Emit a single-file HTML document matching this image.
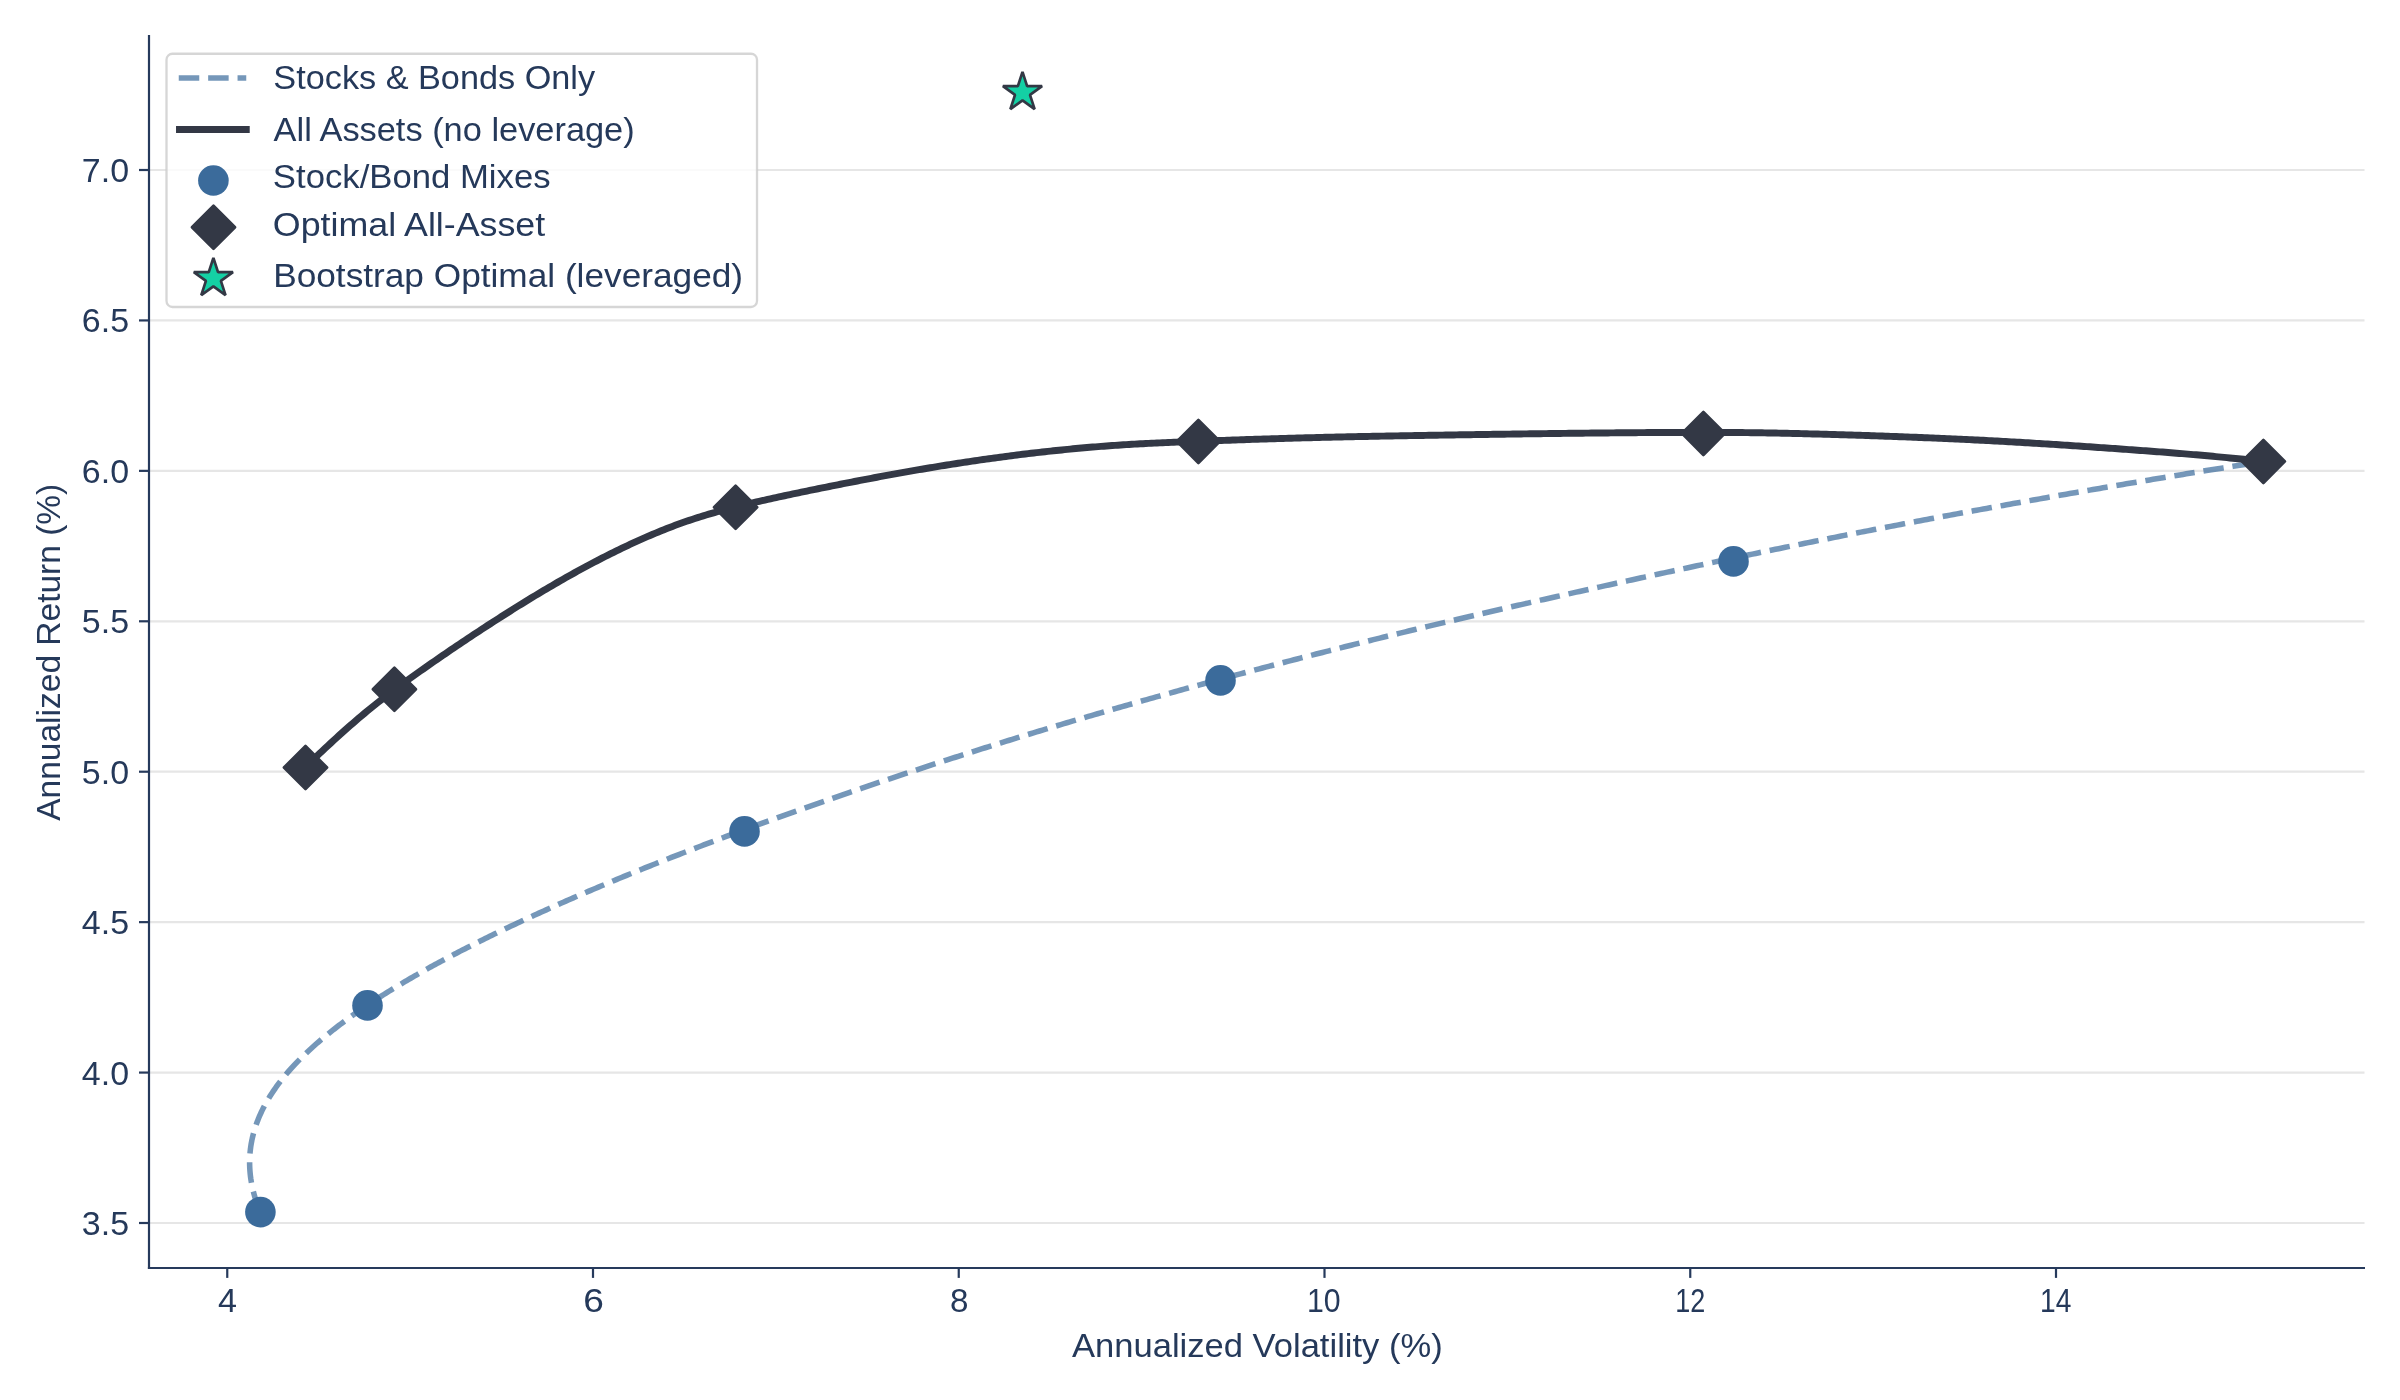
<!DOCTYPE html>
<html><head><meta charset="utf-8"><title>Efficient Frontier</title><style>
html,body{margin:0;padding:0;background:#fff;width:2400px;height:1400px;overflow:hidden}
svg{display:block;will-change:transform}
text{font-family:"Liberation Sans",sans-serif;fill:#25395a}
</style></head><body>
<svg width="2400" height="1400" viewBox="0 0 2400 1400">
<rect x="0" y="0" width="2400" height="1400" fill="#ffffff"/>
<line x1="150" y1="1223.00" x2="2364.5" y2="1223.00" stroke="#e6e6e6" stroke-width="2.2"/>
<line x1="150" y1="1072.57" x2="2364.5" y2="1072.57" stroke="#e6e6e6" stroke-width="2.2"/>
<line x1="150" y1="922.14" x2="2364.5" y2="922.14" stroke="#e6e6e6" stroke-width="2.2"/>
<line x1="150" y1="771.71" x2="2364.5" y2="771.71" stroke="#e6e6e6" stroke-width="2.2"/>
<line x1="150" y1="621.29" x2="2364.5" y2="621.29" stroke="#e6e6e6" stroke-width="2.2"/>
<line x1="150" y1="470.86" x2="2364.5" y2="470.86" stroke="#e6e6e6" stroke-width="2.2"/>
<line x1="150" y1="320.43" x2="2364.5" y2="320.43" stroke="#e6e6e6" stroke-width="2.2"/>
<line x1="150" y1="170.00" x2="2364.5" y2="170.00" stroke="#e6e6e6" stroke-width="2.2"/>
<path d="M259.80,1210.90 L259.25,1209.55 L258.72,1208.20 L258.21,1206.85 L257.71,1205.51 L257.22,1204.16 L256.75,1202.81 L256.29,1201.47 L255.85,1200.13 L255.42,1198.78 L255.01,1197.44 L254.61,1196.10 L254.22,1194.76 L253.86,1193.42 L253.50,1192.08 L253.16,1190.74 L252.84,1189.40 L252.53,1188.06 L252.24,1186.72 L251.96,1185.39 L251.70,1184.05 L251.45,1182.71 L251.22,1181.38 L251.01,1180.04 L250.80,1178.71 L250.62,1177.37 L250.45,1176.04 L250.30,1174.70 L250.16,1173.37 L250.04,1172.03 L249.93,1170.70 L249.84,1169.37 L249.77,1168.03 L249.71,1166.70 L249.66,1165.36 L249.64,1164.03 L249.63,1162.70 L249.63,1161.36 L249.65,1160.03 L249.69,1158.70 L249.74,1157.37 L249.81,1156.03 L249.90,1154.70 L250.00,1153.37 L250.12,1152.04 L250.25,1150.70 L250.40,1149.37 L250.57,1148.04 L250.75,1146.71 L250.95,1145.38 L251.17,1144.05 L251.40,1142.72 L251.65,1141.39 L251.91,1140.06 L252.20,1138.73 L252.49,1137.40 L252.81,1136.07 L253.14,1134.74 L253.48,1133.41 L253.85,1132.08 L254.23,1130.76 L254.62,1129.43 L255.03,1128.11 L255.46,1126.78 L255.91,1125.46 L256.37,1124.13 L256.85,1122.81 L257.34,1121.49 L257.85,1120.17 L258.38,1118.84 L258.92,1117.52 L259.48,1116.21 L260.06,1114.89 L260.65,1113.57 L261.26,1112.26 L261.88,1110.94 L262.52,1109.63 L263.18,1108.32 L263.85,1107.00 L264.54,1105.70 L265.24,1104.39 L265.96,1103.08 L266.70,1101.77 L267.45,1100.47 L268.22,1099.17 L269.00,1097.86 L269.80,1096.56 L270.61,1095.27 L271.44,1093.97 L272.29,1092.67 L273.15,1091.38 L274.03,1090.09 L274.92,1088.80 L275.83,1087.51 L276.75,1086.22 L277.69,1084.94 L278.64,1083.65 L279.61,1082.37 L280.59,1081.09 L281.59,1079.81 L282.61,1078.54 L283.63,1077.26 L284.68,1075.99 L285.73,1074.72 L286.80,1073.45 L287.89,1072.18 L288.99,1070.91 L290.10,1069.65 L291.23,1068.39 L292.38,1067.13 L293.53,1065.87 L294.70,1064.61 L295.89,1063.36 L297.09,1062.11 L298.30,1060.86 L299.53,1059.61 L300.77,1058.36 L302.02,1057.12 L303.28,1055.87 L304.56,1054.63 L305.86,1053.39 L307.16,1052.15 L308.48,1050.91 L309.82,1049.68 L311.16,1048.45 L312.52,1047.22 L313.89,1045.99 L315.27,1044.76 L316.67,1043.53 L318.08,1042.31 L319.50,1041.08 L320.93,1039.86 L322.38,1038.64 L323.83,1037.42 L325.30,1036.21 L326.79,1034.99 L328.28,1033.78 L329.79,1032.56 L331.30,1031.35 L332.83,1030.14 L334.37,1028.94 L335.93,1027.73 L337.49,1026.53 L339.07,1025.32 L340.65,1024.12 L342.25,1022.92 L343.86,1021.72 L345.48,1020.52 L347.11,1019.33 L348.76,1018.13 L350.41,1016.94 L352.08,1015.75 L353.75,1014.55 L355.44,1013.37 L357.14,1012.18 L358.84,1010.99 L360.56,1009.81 L362.29,1008.62 L364.03,1007.44 L365.78,1006.26 L367.54,1005.08 L369.31,1003.90 L371.09,1002.72 L372.88,1001.54 L374.69,1000.37 L376.50,999.19 L378.32,998.02 L380.15,996.85 L381.99,995.68 L383.84,994.51 L385.70,993.34 L387.57,992.18 L389.45,991.01 L391.34,989.85 L393.24,988.68 L395.14,987.52 L397.06,986.36 L398.99,985.20 L400.92,984.04 L402.87,982.89 L404.82,981.73 L406.78,980.57 L408.75,979.42 L410.73,978.27 L412.72,977.11 L414.72,975.96 L416.73,974.81 L418.74,973.67 L420.77,972.52 L422.80,971.37 L424.84,970.23 L426.89,969.08 L428.95,967.94 L431.01,966.80 L433.09,965.65 L435.17,964.51 L437.26,963.38 L439.36,962.24 L441.47,961.10 L443.58,959.96 L445.71,958.83 L447.84,957.70 L449.98,956.56 L452.12,955.43 L454.28,954.30 L456.44,953.17 L458.61,952.04 L460.78,950.91 L462.97,949.79 L465.16,948.66 L467.36,947.54 L469.57,946.41 L471.78,945.29 L474.00,944.17 L476.23,943.05 L478.47,941.93 L480.71,940.81 L482.96,939.69 L485.22,938.57 L487.48,937.46 L489.75,936.34 L492.03,935.23 L494.32,934.11 L496.61,933.00 L498.91,931.89 L501.21,930.78 L503.52,929.67 L505.84,928.56 L508.17,927.45 L510.50,926.35 L512.84,925.24 L515.18,924.14 L517.53,923.03 L519.89,921.93 L522.25,920.83 L524.62,919.73 L527.00,918.63 L529.38,917.53 L531.77,916.43 L534.16,915.33 L536.56,914.23 L538.97,913.14 L541.38,912.04 L543.80,910.95 L546.22,909.86 L548.65,908.77 L551.09,907.67 L553.53,906.58 L555.97,905.50 L558.43,904.41 L560.89,903.32 L563.35,902.23 L565.82,901.15 L568.29,900.06 L570.77,898.98 L573.26,897.90 L575.75,896.82 L578.25,895.73 L580.75,894.65 L583.26,893.57 L585.77,892.50 L588.29,891.42 L590.81,890.34 L593.34,889.27 L595.87,888.19 L598.41,887.12 L600.96,886.05 L603.50,884.97 L606.06,883.90 L608.62,882.83 L611.18,881.76 L613.75,880.69 L616.32,879.63 L618.90,878.56 L621.48,877.49 L624.07,876.43 L626.66,875.37 L629.26,874.30 L631.86,873.24 L634.47,872.18 L637.08,871.12 L639.69,870.06 L642.31,869.00 L644.94,867.95 L647.57,866.89 L650.20,865.84 L652.84,864.78 L655.48,863.73 L658.13,862.68 L660.78,861.63 L663.43,860.58 L666.09,859.53 L668.76,858.48 L671.43,857.43 L674.10,856.39 L676.78,855.34 L679.46,854.30 L682.14,853.26 L684.83,852.22 L687.52,851.18 L690.22,850.14 L692.92,849.10 L695.63,848.06 L698.34,847.03 L701.05,845.99 L703.77,844.96 L706.49,843.92 L709.22,842.89 L711.94,841.86 L714.68,840.83 L717.41,839.80 L720.15,838.77 L722.90,837.75 L725.64,836.72 L728.40,835.69 L731.15,834.67 L733.91,833.65 L736.67,832.62 L739.44,831.60 L742.21,830.58 L744.98,829.56 L747.75,828.54 L750.53,827.52 L753.32,826.51 L756.10,825.49 L758.89,824.47 L761.68,823.46 L764.48,822.44 L767.28,821.43 L770.08,820.42 L772.89,819.41 L775.70,818.40 L778.51,817.39 L781.33,816.38 L784.14,815.37 L786.97,814.36 L789.79,813.35 L792.62,812.35 L795.45,811.34 L798.28,810.33 L801.12,809.33 L803.96,808.33 L806.80,807.32 L809.65,806.32 L812.50,805.32 L815.35,804.32 L818.20,803.32 L821.06,802.32 L823.92,801.32 L826.79,800.32 L829.65,799.33 L832.52,798.33 L835.39,797.33 L838.27,796.34 L841.14,795.34 L844.02,794.35 L846.91,793.36 L849.79,792.36 L852.68,791.37 L855.57,790.38 L858.46,789.39 L861.36,788.40 L864.26,787.42 L867.16,786.43 L870.06,785.44 L872.97,784.46 L875.88,783.47 L878.79,782.49 L881.70,781.51 L884.62,780.52 L887.54,779.54 L890.46,778.56 L893.39,777.58 L896.31,776.61 L899.24,775.63 L902.17,774.65 L905.11,773.68 L908.05,772.70 L910.98,771.73 L913.93,770.76 L916.87,769.79 L919.82,768.82 L922.77,767.85 L925.72,766.88 L928.67,765.91 L931.63,764.95 L934.59,763.98 L937.55,763.02 L940.51,762.06 L943.47,761.10 L946.44,760.14 L949.41,759.18 L952.38,758.22 L955.36,757.26 L958.34,756.31 L961.31,755.35 L964.30,754.40 L967.28,753.45 L970.27,752.50 L973.25,751.55 L976.24,750.60 L979.24,749.65 L982.23,748.71 L985.23,747.76 L988.23,746.82 L991.23,745.88 L994.23,744.94 L997.24,744.00 L1000.24,743.06 L1003.25,742.12 L1006.27,741.19 L1009.28,740.26 L1012.30,739.32 L1015.31,738.39 L1018.33,737.46 L1021.36,736.53 L1024.38,735.61 L1027.41,734.68 L1030.43,733.76 L1033.47,732.84 L1036.50,731.91 L1039.53,730.99 L1042.57,730.07 L1045.61,729.16 L1048.65,728.24 L1051.69,727.33 L1054.73,726.41 L1057.78,725.50 L1060.82,724.59 L1063.87,723.68 L1066.93,722.77 L1069.98,721.86 L1073.03,720.95 L1076.09,720.05 L1079.15,719.15 L1082.21,718.24 L1085.27,717.34 L1088.33,716.44 L1091.40,715.54 L1094.47,714.64 L1097.54,713.75 L1100.61,712.85 L1103.68,711.96 L1106.75,711.06 L1109.83,710.17 L1112.91,709.28 L1115.99,708.39 L1119.07,707.50 L1122.15,706.62 L1125.23,705.73 L1128.32,704.85 L1131.41,703.96 L1134.50,703.08 L1137.59,702.20 L1140.68,701.32 L1143.77,700.44 L1146.87,699.56 L1149.97,698.69 L1153.07,697.81 L1156.17,696.94 L1159.27,696.07 L1162.37,695.20 L1165.48,694.33 L1168.58,693.46 L1171.69,692.59 L1174.80,691.73 L1177.91,690.86 L1181.02,690.00 L1184.14,689.14 L1187.25,688.28 L1190.37,687.42 L1193.49,686.56 L1196.61,685.70 L1199.73,684.85 L1202.85,683.99 L1205.98,683.14 L1209.10,682.29 L1212.23,681.44 L1215.36,680.59 L1218.49,679.74 L1221.62,678.90 L1224.75,678.05 L1227.89,677.21 L1231.02,676.37 L1234.16,675.52 L1237.30,674.68 L1240.44,673.84 L1243.58,673.01 L1246.72,672.17 L1249.86,671.33 L1253.01,670.50 L1256.16,669.67 L1259.30,668.83 L1262.45,668.00 L1265.60,667.17 L1268.75,666.35 L1271.91,665.52 L1275.06,664.69 L1278.21,663.87 L1281.37,663.04 L1284.53,662.22 L1287.69,661.40 L1290.85,660.58 L1294.01,659.76 L1297.17,658.94 L1300.33,658.12 L1303.50,657.31 L1306.66,656.49 L1309.83,655.68 L1313.00,654.87 L1316.17,654.06 L1319.34,653.25 L1322.51,652.44 L1325.68,651.63 L1328.86,650.82 L1332.03,650.02 L1335.21,649.22 L1338.39,648.41 L1341.57,647.61 L1344.75,646.81 L1347.93,646.01 L1351.11,645.21 L1354.29,644.42 L1357.48,643.62 L1360.66,642.83 L1363.85,642.03 L1367.04,641.24 L1370.22,640.45 L1373.41,639.66 L1376.60,638.87 L1379.80,638.09 L1382.99,637.30 L1386.18,636.51 L1389.38,635.73 L1392.57,634.95 L1395.77,634.17 L1398.97,633.39 L1402.17,632.61 L1405.37,631.83 L1408.57,631.05 L1411.77,630.28 L1414.97,629.51 L1418.18,628.73 L1421.38,627.96 L1424.59,627.19 L1427.80,626.42 L1431.00,625.65 L1434.21,624.89 L1437.42,624.12 L1440.63,623.35 L1443.85,622.59 L1447.06,621.83 L1450.27,621.07 L1453.49,620.31 L1456.70,619.55 L1459.92,618.79 L1463.14,618.03 L1466.35,617.28 L1469.57,616.52 L1472.79,615.77 L1476.01,615.01 L1479.24,614.26 L1482.46,613.51 L1485.68,612.76 L1488.91,612.01 L1492.13,611.26 L1495.36,610.52 L1498.58,609.77 L1501.81,609.03 L1505.04,608.28 L1508.27,607.54 L1511.50,606.80 L1514.73,606.06 L1517.96,605.32 L1521.19,604.58 L1524.43,603.84 L1527.66,603.10 L1530.90,602.37 L1534.13,601.63 L1537.37,600.89 L1540.61,600.16 L1543.84,599.43 L1547.08,598.70 L1550.32,597.96 L1553.56,597.23 L1556.80,596.50 L1560.04,595.78 L1563.29,595.05 L1566.53,594.32 L1569.77,593.59 L1573.02,592.87 L1576.26,592.14 L1579.51,591.42 L1582.75,590.70 L1586.00,589.97 L1589.25,589.25 L1592.50,588.53 L1595.75,587.81 L1599.00,587.09 L1602.25,586.37 L1605.50,585.66 L1608.75,584.94 L1612.00,584.22 L1615.26,583.51 L1618.51,582.79 L1621.77,582.08 L1625.02,581.36 L1628.28,580.65 L1631.53,579.94 L1634.79,579.23 L1638.05,578.52 L1641.31,577.80 L1644.56,577.09 L1647.82,576.39 L1651.08,575.68 L1654.34,574.97 L1657.61,574.26 L1660.87,573.56 L1664.13,572.85 L1667.39,572.15 L1670.66,571.44 L1673.92,570.74 L1677.19,570.04 L1680.45,569.33 L1683.72,568.63 L1686.98,567.93 L1690.25,567.23 L1693.52,566.53 L1696.79,565.84 L1700.06,565.14 L1703.33,564.44 L1706.60,563.75 L1709.87,563.05 L1713.14,562.36 L1716.41,561.66 L1719.68,560.97 L1722.96,560.28 L1726.23,559.59 L1729.50,558.90 L1732.78,558.21 L1736.05,557.52 L1739.33,556.84 L1742.61,556.15 L1745.88,555.47 L1749.16,554.78 L1752.44,554.10 L1755.72,553.42 L1759.00,552.74 L1762.28,552.06 L1765.56,551.38 L1768.84,550.70 L1772.12,550.02 L1775.41,549.34 L1778.69,548.67 L1781.97,548.00 L1785.26,547.32 L1788.54,546.65 L1791.83,545.98 L1795.11,545.31 L1798.40,544.64 L1801.69,543.97 L1804.98,543.31 L1808.26,542.64 L1811.55,541.98 L1814.84,541.31 L1818.13,540.65 L1821.42,539.99 L1824.71,539.33 L1828.01,538.67 L1831.30,538.01 L1834.59,537.36 L1837.88,536.70 L1841.18,536.05 L1844.47,535.40 L1847.77,534.74 L1851.06,534.09 L1854.36,533.45 L1857.66,532.80 L1860.96,532.15 L1864.25,531.51 L1867.55,530.86 L1870.85,530.22 L1874.15,529.58 L1877.45,528.93 L1880.75,528.30 L1884.05,527.66 L1887.35,527.02 L1890.66,526.38 L1893.96,525.75 L1897.26,525.11 L1900.57,524.48 L1903.87,523.85 L1907.18,523.22 L1910.48,522.59 L1913.79,521.96 L1917.09,521.33 L1920.40,520.71 L1923.71,520.08 L1927.01,519.46 L1930.32,518.84 L1933.63,518.21 L1936.94,517.59 L1940.25,516.97 L1943.56,516.35 L1946.87,515.74 L1950.18,515.12 L1953.49,514.50 L1956.81,513.89 L1960.12,513.28 L1963.43,512.66 L1966.75,512.05 L1970.06,511.44 L1973.37,510.83 L1976.69,510.23 L1980.00,509.62 L1983.32,509.01 L1986.64,508.41 L1989.95,507.80 L1993.27,507.20 L1996.59,506.60 L1999.90,506.00 L2003.22,505.40 L2006.54,504.80 L2009.86,504.20 L2013.18,503.60 L2016.50,503.00 L2019.82,502.41 L2023.14,501.81 L2026.46,501.22 L2029.78,500.63 L2033.11,500.04 L2036.43,499.45 L2039.75,498.86 L2043.07,498.27 L2046.40,497.68 L2049.72,497.09 L2053.05,496.51 L2056.37,495.92 L2059.70,495.34 L2063.02,494.75 L2066.35,494.17 L2069.67,493.59 L2073.00,493.01 L2076.33,492.43 L2079.66,491.85 L2082.98,491.27 L2086.31,490.70 L2089.64,490.12 L2092.97,489.55 L2096.30,488.97 L2099.63,488.40 L2102.96,487.83 L2106.29,487.26 L2109.62,486.69 L2112.95,486.12 L2116.28,485.55 L2119.62,484.98 L2122.95,484.42 L2126.28,483.85 L2129.61,483.29 L2132.95,482.72 L2136.28,482.16 L2139.62,481.60 L2142.95,481.04 L2146.29,480.48 L2149.62,479.92 L2152.96,479.36 L2156.29,478.81 L2159.63,478.25 L2162.97,477.70 L2166.30,477.14 L2169.64,476.59 L2172.98,476.04 L2176.32,475.49 L2179.66,474.94 L2182.99,474.39 L2186.33,473.84 L2189.67,473.30 L2193.01,472.75 L2196.35,472.21 L2199.69,471.66 L2203.04,471.12 L2206.38,470.58 L2209.72,470.04 L2213.06,469.50 L2216.40,468.96 L2219.75,468.42 L2223.09,467.89 L2226.43,467.35 L2229.78,466.82 L2233.12,466.28 L2236.46,465.75 L2239.81,465.22 L2243.15,464.69 L2246.50,464.16 L2249.85,463.63 L2253.19,463.11 L2256.54,462.58 L2259.89,462.06 L2263.23,461.53" fill="none" stroke="#3b6b9b" stroke-opacity="0.7" stroke-width="5.55" stroke-dasharray="20.5 8.9" stroke-linecap="butt"/>
<path d="M305.50,766.77 L308.30,764.12 L311.10,761.47 L313.90,758.83 L316.70,756.19 L319.51,753.56 L322.31,750.93 L325.11,748.32 L327.91,745.71 L330.71,743.12 L333.51,740.54 L336.31,737.98 L339.11,735.44 L341.91,732.91 L344.71,730.40 L347.52,727.92 L350.32,725.45 L353.12,723.01 L355.92,720.59 L358.72,718.19 L361.52,715.82 L364.32,713.47 L367.12,711.15 L369.92,708.86 L372.72,706.59 L375.53,704.34 L378.33,702.12 L381.13,699.92 L383.93,697.75 L386.73,695.59 L389.53,693.46 L392.33,691.35 L395.13,689.25 L397.93,687.17 L400.73,685.11 L403.54,683.06 L406.34,681.03 L409.14,679.01 L411.94,677.00 L414.74,675.00 L417.54,673.01 L420.34,671.03 L423.14,669.06 L425.94,667.10 L428.74,665.14 L431.55,663.19 L434.35,661.25 L437.15,659.32 L439.95,657.39 L442.75,655.47 L445.55,653.55 L448.35,651.64 L451.15,649.73 L453.95,647.84 L456.75,645.94 L459.56,644.06 L462.36,642.18 L465.16,640.30 L467.96,638.44 L470.76,636.57 L473.56,634.72 L476.36,632.87 L479.16,631.03 L481.96,629.19 L484.76,627.36 L487.57,625.54 L490.37,623.72 L493.17,621.91 L495.97,620.11 L498.77,618.31 L501.57,616.52 L504.37,614.73 L507.17,612.96 L509.97,611.19 L512.77,609.43 L515.58,607.67 L518.38,605.92 L521.18,604.19 L523.98,602.45 L526.78,600.73 L529.58,599.02 L532.38,597.31 L535.18,595.62 L537.98,593.93 L540.78,592.25 L543.59,590.58 L546.39,588.92 L549.19,587.27 L551.99,585.63 L554.79,584.00 L557.59,582.38 L560.39,580.77 L563.19,579.17 L565.99,577.58 L568.79,576.00 L571.60,574.43 L574.40,572.87 L577.20,571.33 L580.00,569.79 L582.80,568.27 L585.60,566.75 L588.40,565.25 L591.20,563.76 L594.00,562.28 L596.80,560.82 L599.61,559.36 L602.41,557.92 L605.21,556.49 L608.01,555.08 L610.81,553.67 L613.61,552.28 L616.41,550.91 L619.21,549.54 L622.01,548.19 L624.81,546.85 L627.62,545.53 L630.42,544.22 L633.22,542.93 L636.02,541.64 L638.82,540.38 L641.62,539.13 L644.42,537.89 L647.22,536.67 L650.02,535.47 L652.82,534.28 L655.63,533.11 L658.43,531.95 L661.23,530.81 L664.03,529.69 L666.83,528.58 L669.63,527.50 L672.43,526.43 L675.23,525.37 L678.03,524.34 L680.83,523.32 L683.64,522.32 L686.44,521.34 L689.24,520.38 L692.04,519.44 L694.84,518.51 L697.64,517.60 L700.44,516.72 L703.24,515.85 L706.04,515.00 L708.84,514.17 L711.65,513.35 L714.45,512.56 L717.25,511.77 L720.05,511.01 L722.85,510.26 L725.65,509.51 L728.45,508.79 L731.25,508.07 L734.05,507.36 L736.85,506.66 L739.66,505.97 L742.46,505.28 L745.26,504.61 L748.06,503.94 L750.86,503.28 L753.66,502.62 L756.46,501.97 L759.26,501.33 L762.06,500.69 L764.86,500.05 L767.67,499.43 L770.47,498.80 L773.27,498.18 L776.07,497.57 L778.87,496.96 L781.67,496.35 L784.47,495.75 L787.27,495.15 L790.07,494.55 L792.87,493.96 L795.68,493.37 L798.48,492.78 L801.28,492.19 L804.08,491.61 L806.88,491.03 L809.68,490.45 L812.48,489.88 L815.28,489.31 L818.08,488.74 L820.88,488.17 L823.69,487.60 L826.49,487.04 L829.29,486.48 L832.09,485.92 L834.89,485.36 L837.69,484.80 L840.49,484.25 L843.29,483.70 L846.09,483.15 L848.89,482.60 L851.70,482.05 L854.50,481.51 L857.30,480.97 L860.10,480.43 L862.90,479.89 L865.70,479.35 L868.50,478.82 L871.30,478.29 L874.10,477.76 L876.90,477.24 L879.71,476.71 L882.51,476.19 L885.31,475.68 L888.11,475.16 L890.91,474.65 L893.71,474.14 L896.51,473.63 L899.31,473.13 L902.11,472.63 L904.91,472.13 L907.72,471.64 L910.52,471.14 L913.32,470.66 L916.12,470.17 L918.92,469.69 L921.72,469.21 L924.52,468.73 L927.32,468.26 L930.12,467.79 L932.92,467.32 L935.73,466.86 L938.53,466.40 L941.33,465.94 L944.13,465.49 L946.93,465.04 L949.73,464.60 L952.53,464.15 L955.33,463.71 L958.13,463.28 L960.93,462.85 L963.74,462.42 L966.54,461.99 L969.34,461.57 L972.14,461.16 L974.94,460.74 L977.74,460.33 L980.54,459.93 L983.34,459.52 L986.14,459.13 L988.94,458.73 L991.75,458.34 L994.55,457.96 L997.35,457.57 L1000.15,457.20 L1002.95,456.82 L1005.75,456.45 L1008.55,456.08 L1011.35,455.72 L1014.15,455.36 L1016.95,455.01 L1019.76,454.66 L1022.56,454.31 L1025.36,453.97 L1028.16,453.63 L1030.96,453.30 L1033.76,452.97 L1036.56,452.65 L1039.36,452.33 L1042.16,452.01 L1044.96,451.70 L1047.77,451.39 L1050.57,451.09 L1053.37,450.79 L1056.17,450.50 L1058.97,450.21 L1061.77,449.92 L1064.57,449.64 L1067.37,449.36 L1070.17,449.09 L1072.97,448.82 L1075.78,448.56 L1078.58,448.30 L1081.38,448.05 L1084.18,447.80 L1086.98,447.55 L1089.78,447.32 L1092.58,447.08 L1095.38,446.85 L1098.18,446.62 L1100.98,446.40 L1103.79,446.19 L1106.59,445.97 L1109.39,445.77 L1112.19,445.57 L1114.99,445.37 L1117.79,445.18 L1120.59,444.99 L1123.39,444.81 L1126.19,444.63 L1128.99,444.46 L1131.80,444.29 L1134.60,444.13 L1137.40,443.97 L1140.20,443.81 L1143.00,443.66 L1145.80,443.52 L1148.60,443.38 L1151.40,443.24 L1154.20,443.11 L1157.00,442.97 L1159.81,442.85 L1162.61,442.72 L1165.41,442.60 L1168.21,442.48 L1171.01,442.36 L1173.81,442.25 L1176.61,442.13 L1179.41,442.02 L1182.21,441.91 L1185.01,441.80 L1187.82,441.70 L1190.62,441.59 L1193.42,441.49 L1196.22,441.38 L1199.02,441.28 L1201.82,441.17 L1204.62,441.07 L1207.42,440.97 L1210.22,440.86 L1213.02,440.76 L1215.83,440.66 L1218.63,440.56 L1221.43,440.46 L1224.23,440.36 L1227.03,440.26 L1229.83,440.16 L1232.63,440.06 L1235.43,439.96 L1238.23,439.87 L1241.03,439.77 L1243.84,439.67 L1246.64,439.58 L1249.44,439.49 L1252.24,439.39 L1255.04,439.30 L1257.84,439.21 L1260.64,439.12 L1263.44,439.03 L1266.24,438.94 L1269.04,438.85 L1271.85,438.77 L1274.65,438.68 L1277.45,438.60 L1280.25,438.51 L1283.05,438.43 L1285.85,438.35 L1288.65,438.27 L1291.45,438.19 L1294.25,438.11 L1297.05,438.04 L1299.86,437.96 L1302.66,437.89 L1305.46,437.81 L1308.26,437.74 L1311.06,437.67 L1313.86,437.60 L1316.66,437.53 L1319.46,437.46 L1322.26,437.39 L1325.06,437.33 L1327.87,437.26 L1330.67,437.19 L1333.47,437.13 L1336.27,437.07 L1339.07,437.00 L1341.87,436.94 L1344.67,436.88 L1347.47,436.82 L1350.27,436.76 L1353.07,436.70 L1355.88,436.64 L1358.68,436.59 L1361.48,436.53 L1364.28,436.47 L1367.08,436.42 L1369.88,436.36 L1372.68,436.31 L1375.48,436.25 L1378.28,436.20 L1381.08,436.15 L1383.89,436.10 L1386.69,436.05 L1389.49,436.00 L1392.29,435.94 L1395.09,435.89 L1397.89,435.85 L1400.69,435.80 L1403.49,435.75 L1406.29,435.70 L1409.09,435.65 L1411.90,435.60 L1414.70,435.56 L1417.50,435.51 L1420.30,435.46 L1423.10,435.42 L1425.90,435.37 L1428.70,435.33 L1431.50,435.28 L1434.30,435.24 L1437.10,435.19 L1439.91,435.15 L1442.71,435.10 L1445.51,435.06 L1448.31,435.02 L1451.11,434.97 L1453.91,434.93 L1456.71,434.89 L1459.51,434.84 L1462.31,434.80 L1465.11,434.76 L1467.92,434.71 L1470.72,434.67 L1473.52,434.63 L1476.32,434.59 L1479.12,434.54 L1481.92,434.50 L1484.72,434.46 L1487.52,434.42 L1490.32,434.38 L1493.12,434.34 L1495.93,434.30 L1498.73,434.26 L1501.53,434.22 L1504.33,434.18 L1507.13,434.14 L1509.93,434.10 L1512.73,434.06 L1515.53,434.02 L1518.33,433.98 L1521.13,433.94 L1523.94,433.90 L1526.74,433.86 L1529.54,433.83 L1532.34,433.79 L1535.14,433.75 L1537.94,433.72 L1540.74,433.68 L1543.54,433.64 L1546.34,433.61 L1549.14,433.57 L1551.95,433.54 L1554.75,433.50 L1557.55,433.47 L1560.35,433.43 L1563.15,433.40 L1565.95,433.37 L1568.75,433.33 L1571.55,433.30 L1574.35,433.27 L1577.15,433.24 L1579.96,433.21 L1582.76,433.18 L1585.56,433.14 L1588.36,433.11 L1591.16,433.08 L1593.96,433.05 L1596.76,433.03 L1599.56,433.00 L1602.36,432.97 L1605.16,432.94 L1607.97,432.91 L1610.77,432.89 L1613.57,432.86 L1616.37,432.84 L1619.17,432.81 L1621.97,432.79 L1624.77,432.76 L1627.57,432.74 L1630.37,432.72 L1633.17,432.69 L1635.98,432.67 L1638.78,432.65 L1641.58,432.63 L1644.38,432.61 L1647.18,432.59 L1649.98,432.58 L1652.78,432.56 L1655.58,432.54 L1658.38,432.53 L1661.18,432.51 L1663.99,432.50 L1666.79,432.49 L1669.59,432.48 L1672.39,432.47 L1675.19,432.46 L1677.99,432.45 L1680.79,432.44 L1683.59,432.43 L1686.39,432.43 L1689.19,432.42 L1692.00,432.42 L1694.80,432.42 L1697.60,432.42 L1700.40,432.41 L1703.20,432.41 L1706.00,432.41 L1708.80,432.41 L1711.60,432.41 L1714.40,432.41 L1717.20,432.42 L1720.01,432.42 L1722.81,432.43 L1725.61,432.44 L1728.41,432.46 L1731.21,432.48 L1734.01,432.50 L1736.81,432.52 L1739.61,432.55 L1742.41,432.57 L1745.21,432.61 L1748.02,432.64 L1750.82,432.68 L1753.62,432.71 L1756.42,432.75 L1759.22,432.80 L1762.02,432.84 L1764.82,432.89 L1767.62,432.94 L1770.42,432.99 L1773.22,433.04 L1776.03,433.09 L1778.83,433.15 L1781.63,433.20 L1784.43,433.26 L1787.23,433.32 L1790.03,433.38 L1792.83,433.44 L1795.63,433.51 L1798.43,433.57 L1801.23,433.64 L1804.04,433.71 L1806.84,433.77 L1809.64,433.85 L1812.44,433.92 L1815.24,433.99 L1818.04,434.06 L1820.84,434.14 L1823.64,434.22 L1826.44,434.29 L1829.24,434.37 L1832.05,434.45 L1834.85,434.53 L1837.65,434.61 L1840.45,434.70 L1843.25,434.78 L1846.05,434.87 L1848.85,434.95 L1851.65,435.04 L1854.45,435.13 L1857.25,435.22 L1860.06,435.31 L1862.86,435.40 L1865.66,435.50 L1868.46,435.59 L1871.26,435.68 L1874.06,435.78 L1876.86,435.87 L1879.66,435.97 L1882.46,436.07 L1885.26,436.17 L1888.07,436.27 L1890.87,436.37 L1893.67,436.47 L1896.47,436.57 L1899.27,436.68 L1902.07,436.78 L1904.87,436.89 L1907.67,437.00 L1910.47,437.10 L1913.27,437.21 L1916.08,437.32 L1918.88,437.43 L1921.68,437.55 L1924.48,437.66 L1927.28,437.77 L1930.08,437.89 L1932.88,438.01 L1935.68,438.12 L1938.48,438.24 L1941.28,438.36 L1944.09,438.49 L1946.89,438.61 L1949.69,438.73 L1952.49,438.86 L1955.29,438.99 L1958.09,439.12 L1960.89,439.25 L1963.69,439.38 L1966.49,439.51 L1969.29,439.65 L1972.10,439.78 L1974.90,439.92 L1977.70,440.06 L1980.50,440.20 L1983.30,440.34 L1986.10,440.48 L1988.90,440.63 L1991.70,440.78 L1994.50,440.93 L1997.30,441.08 L2000.11,441.23 L2002.91,441.38 L2005.71,441.54 L2008.51,441.69 L2011.31,441.85 L2014.11,442.01 L2016.91,442.17 L2019.71,442.34 L2022.51,442.50 L2025.31,442.67 L2028.12,442.83 L2030.92,443.00 L2033.72,443.17 L2036.52,443.35 L2039.32,443.52 L2042.12,443.69 L2044.92,443.87 L2047.72,444.05 L2050.52,444.22 L2053.32,444.40 L2056.13,444.58 L2058.93,444.76 L2061.73,444.95 L2064.53,445.13 L2067.33,445.32 L2070.13,445.50 L2072.93,445.69 L2075.73,445.88 L2078.53,446.07 L2081.33,446.26 L2084.14,446.45 L2086.94,446.64 L2089.74,446.83 L2092.54,447.02 L2095.34,447.22 L2098.14,447.41 L2100.94,447.61 L2103.74,447.80 L2106.54,448.00 L2109.34,448.20 L2112.15,448.39 L2114.95,448.59 L2117.75,448.79 L2120.55,448.99 L2123.35,449.19 L2126.15,449.39 L2128.95,449.60 L2131.75,449.80 L2134.55,450.00 L2137.35,450.20 L2140.16,450.41 L2142.96,450.62 L2145.76,450.82 L2148.56,451.03 L2151.36,451.24 L2154.16,451.45 L2156.96,451.66 L2159.76,451.88 L2162.56,452.09 L2165.36,452.31 L2168.17,452.53 L2170.97,452.75 L2173.77,452.97 L2176.57,453.20 L2179.37,453.42 L2182.17,453.65 L2184.97,453.88 L2187.77,454.12 L2190.57,454.35 L2193.37,454.59 L2196.18,454.83 L2198.98,455.07 L2201.78,455.32 L2204.58,455.57 L2207.38,455.82 L2210.18,456.07 L2212.98,456.33 L2215.78,456.59 L2218.58,456.85 L2221.38,457.12 L2224.19,457.38 L2226.99,457.65 L2229.79,457.93 L2232.59,458.20 L2235.39,458.48 L2238.19,458.76 L2240.99,459.04 L2243.79,459.32 L2246.59,459.60 L2249.39,459.89 L2252.20,460.17 L2255.00,460.46 L2257.80,460.75 L2260.60,461.03 L2263.40,461.32" fill="none" stroke="#333845" stroke-width="6.95" stroke-linecap="square" stroke-linejoin="round"/>
<circle cx="260.4" cy="1212.1" r="15.3" fill="#3b6b9b"/>
<circle cx="367.5" cy="1005.4" r="15.3" fill="#3b6b9b"/>
<circle cx="744.5" cy="831.4" r="15.3" fill="#3b6b9b"/>
<circle cx="1220.5" cy="680.4" r="15.3" fill="#3b6b9b"/>
<circle cx="1733.5" cy="561.4" r="15.3" fill="#3b6b9b"/>
<circle cx="2263.4" cy="461.4" r="15.3" fill="#3b6b9b"/>
<path d="M305.50,745.95 L327.05,767.50 L305.50,789.05 L283.95,767.50 Z" fill="#333845" stroke="#333845" stroke-width="2.7" stroke-linejoin="round"/>
<path d="M394.40,667.75 L415.95,689.30 L394.40,710.85 L372.85,689.30 Z" fill="#333845" stroke="#333845" stroke-width="2.7" stroke-linejoin="round"/>
<path d="M735.60,485.75 L757.15,507.30 L735.60,528.85 L714.05,507.30 Z" fill="#333845" stroke="#333845" stroke-width="2.7" stroke-linejoin="round"/>
<path d="M1198.40,419.85 L1219.95,441.40 L1198.40,462.95 L1176.85,441.40 Z" fill="#333845" stroke="#333845" stroke-width="2.7" stroke-linejoin="round"/>
<path d="M1703.40,411.85 L1724.95,433.40 L1703.40,454.95 L1681.85,433.40 Z" fill="#333845" stroke="#333845" stroke-width="2.7" stroke-linejoin="round"/>
<path d="M2263.40,439.85 L2284.95,461.40 L2263.40,482.95 L2241.85,461.40 Z" fill="#333845" stroke="#333845" stroke-width="2.7" stroke-linejoin="round"/>
<path d="M1022.50,71.90 L1017.88,86.13 L1002.91,86.13 L1015.02,94.93 L1010.39,109.17 L1022.50,100.37 L1034.61,109.17 L1029.98,94.93 L1042.09,86.13 L1027.12,86.13 Z" fill="#14d0a4" stroke="#333845" stroke-width="2.7" stroke-linejoin="bevel"/>
<line x1="149" y1="34.9" x2="149" y2="1269.1" stroke="#263a5c" stroke-width="2.2"/>
<line x1="147.9" y1="1268" x2="2365" y2="1268" stroke="#263a5c" stroke-width="2.2"/>
<line x1="227.25" y1="1268" x2="227.25" y2="1277.9" stroke="#263a5c" stroke-width="2.2"/>
<text transform="translate(218.00,1312.00) scale(1.0333,1)" font-size="33">4</text>
<line x1="593.00" y1="1268" x2="593.00" y2="1277.9" stroke="#263a5c" stroke-width="2.2"/>
<text transform="translate(583.27,1312.00) scale(1.1250,1)" font-size="33">6</text>
<line x1="958.75" y1="1268" x2="958.75" y2="1277.9" stroke="#263a5c" stroke-width="2.2"/>
<text transform="translate(950.04,1312.00) scale(1.0062,1)" font-size="33">8</text>
<line x1="1324.50" y1="1268" x2="1324.50" y2="1277.9" stroke="#263a5c" stroke-width="2.2"/>
<text transform="translate(1306.96,1312.00) scale(0.9176,1)" font-size="33">10</text>
<line x1="1690.25" y1="1268" x2="1690.25" y2="1277.9" stroke="#263a5c" stroke-width="2.2"/>
<text transform="translate(1675.16,1312.00) scale(0.8182,1)" font-size="33">12</text>
<line x1="2056.00" y1="1268" x2="2056.00" y2="1277.9" stroke="#263a5c" stroke-width="2.2"/>
<text transform="translate(2040.09,1312.00) scale(0.8529,1)" font-size="33">14</text>
<line x1="139" y1="1223.00" x2="149" y2="1223.00" stroke="#263a5c" stroke-width="2.2"/>
<text transform="translate(81.85,1235.00) scale(1.0300,1)" font-size="33">3.5</text>
<line x1="139" y1="1072.57" x2="149" y2="1072.57" stroke="#263a5c" stroke-width="2.2"/>
<text transform="translate(81.85,1084.57) scale(1.0300,1)" font-size="33">4.0</text>
<line x1="139" y1="922.14" x2="149" y2="922.14" stroke="#263a5c" stroke-width="2.2"/>
<text transform="translate(81.85,934.14) scale(1.0300,1)" font-size="33">4.5</text>
<line x1="139" y1="771.71" x2="149" y2="771.71" stroke="#263a5c" stroke-width="2.2"/>
<text transform="translate(81.85,783.71) scale(1.0300,1)" font-size="33">5.0</text>
<line x1="139" y1="621.29" x2="149" y2="621.29" stroke="#263a5c" stroke-width="2.2"/>
<text transform="translate(81.85,633.29) scale(1.0300,1)" font-size="33">5.5</text>
<line x1="139" y1="470.86" x2="149" y2="470.86" stroke="#263a5c" stroke-width="2.2"/>
<text transform="translate(81.85,482.86) scale(1.0300,1)" font-size="33">6.0</text>
<line x1="139" y1="320.43" x2="149" y2="320.43" stroke="#263a5c" stroke-width="2.2"/>
<text transform="translate(81.85,332.43) scale(1.0300,1)" font-size="33">6.5</text>
<line x1="139" y1="170.00" x2="149" y2="170.00" stroke="#263a5c" stroke-width="2.2"/>
<text transform="translate(81.85,182.00) scale(1.0300,1)" font-size="33">7.0</text>
<text transform="translate(1072.00,1357.00) scale(1.0477,1)" font-size="33">Annualized Volatility (%)</text>
<text transform="translate(60.00,820.75) rotate(-90) scale(1.0152,1)" font-size="33">Annualized Return (%)</text>
<rect x="166.5" y="53.75" width="590.5" height="253.25" rx="6" ry="6" fill="#ffffff" fill-opacity="0.8" stroke="#cccccc" stroke-opacity="0.8" stroke-width="2.3"/>
<line x1="178.75" y1="78" x2="246.25" y2="78" stroke="#3b6b9b" stroke-opacity="0.7" stroke-width="5.55" stroke-dasharray="20.5 8.9"/>
<line x1="179.5" y1="129.4" x2="246.25" y2="129.4" stroke="#333845" stroke-width="6.95" stroke-linecap="square"/>
<circle cx="213.4" cy="180.5" r="15.3" fill="#3b6b9b"/>
<path d="M213.50,205.75 L235.05,227.30 L213.50,248.85 L191.95,227.30 Z" fill="#333845" stroke="#333845" stroke-width="2.7" stroke-linejoin="round"/>
<path d="M213.40,257.90 L208.78,272.13 L193.81,272.13 L205.92,280.93 L201.29,295.17 L213.40,286.37 L225.51,295.17 L220.88,280.93 L232.99,272.13 L218.02,272.13 Z" fill="#14d0a4" stroke="#333845" stroke-width="2.7" stroke-linejoin="bevel"/>
<text transform="translate(273.36,89.40) scale(1.0382,1)" font-size="33">Stocks &amp; Bonds Only</text>
<text transform="translate(273.60,141.00) scale(1.0420,1)" font-size="33">All Assets (no leverage)</text>
<text transform="translate(272.85,187.75) scale(1.0515,1)" font-size="33">Stock/Bond Mixes</text>
<text transform="translate(272.82,236.00) scale(1.0848,1)" font-size="33">Optimal All-Asset</text>
<text transform="translate(273.16,286.90) scale(1.0680,1)" font-size="33">Bootstrap Optimal (leveraged)</text>
</svg></body></html>
